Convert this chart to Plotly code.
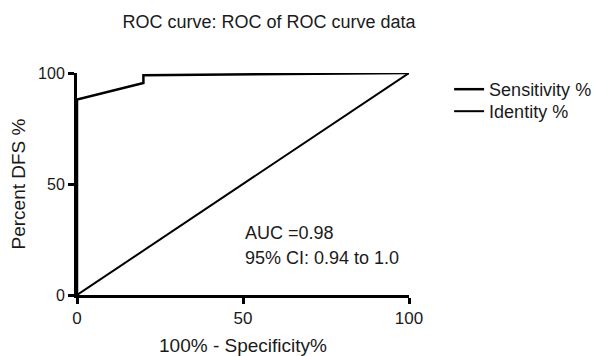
import plotly.graph_objects as go

sens_x = [0, 0, 20, 20, 100]
sens_y = [0, 88, 95.5, 99, 100]
ident_x = [0, 100]
ident_y = [0, 100]
x_ticks = [0, 50, 100]
y_ticks = [0, 50, 100]

FONT = "Liberation Sans, Arial, Helvetica, sans-serif"
TXT = "#1a1a1a"

fig = go.Figure()
fig.add_trace(go.Scatter(x=sens_x, y=sens_y, mode="lines", name="Sensitivity %",
                         line=dict(color="black", width=2.5), cliponaxis=False,
                         legend="legend", showlegend=True))
fig.add_trace(go.Scatter(x=ident_x, y=ident_y, mode="lines", name="Identity %",
                         line=dict(color="black", width=2), cliponaxis=False,
                         legend="legend2", showlegend=True))

fig.add_annotation(x=50, y=27.9, text="AUC =0.98", showarrow=False, xanchor="left",
                   yanchor="middle", font=dict(size=18, color=TXT))
fig.add_annotation(x=50, y=16.7, text="95% CI: 0.94 to 1.0", showarrow=False, xanchor="left",
                   yanchor="middle", font=dict(size=18, color=TXT))

legend_style = dict(xref="container", yref="container", x=0.751,
                    xanchor="left", yanchor="top", font=dict(size=18),
                    itemwidth=30, bgcolor="rgba(0,0,0,0)")

fig.update_layout(
    width=598, height=356,
    showlegend=True,
    margin=dict(l=77, r=189, t=73, b=61),
    paper_bgcolor="white", plot_bgcolor="white",
    font=dict(family=FONT, size=16, color=TXT),
    title=dict(text="ROC curve: ROC of ROC curve data", x=0.45, xanchor="center",
               y=0.94, yanchor="middle", font=dict(size=18)),
    legend=dict(legend_style, y=0.8006),
    legend2=dict(legend_style, y=0.7388),
    xaxis=dict(range=[0, 100], tickvals=x_ticks, showgrid=False, zeroline=False,
               showline=True, linecolor="black", linewidth=3,
               ticks="outside", ticklen=6, tickwidth=3, tickcolor="black",
               tickfont=dict(size=17), automargin=False,
               title=dict(text="100% - Specificity%", font=dict(size=19), standoff=14)),
    yaxis=dict(range=[0, 100], tickvals=y_ticks, showgrid=False, zeroline=False,
               showline=True, linecolor="black", linewidth=3,
               ticks="outside", ticklen=6, tickwidth=3, tickcolor="black",
               tickfont=dict(size=16), automargin=False,
               title=dict(text="Percent DFS %", font=dict(size=19), standoff=8)),
)

fig.write_html("out.html", config={"displayModeBar": False},
               post_script="document.body.style.margin='0';")
